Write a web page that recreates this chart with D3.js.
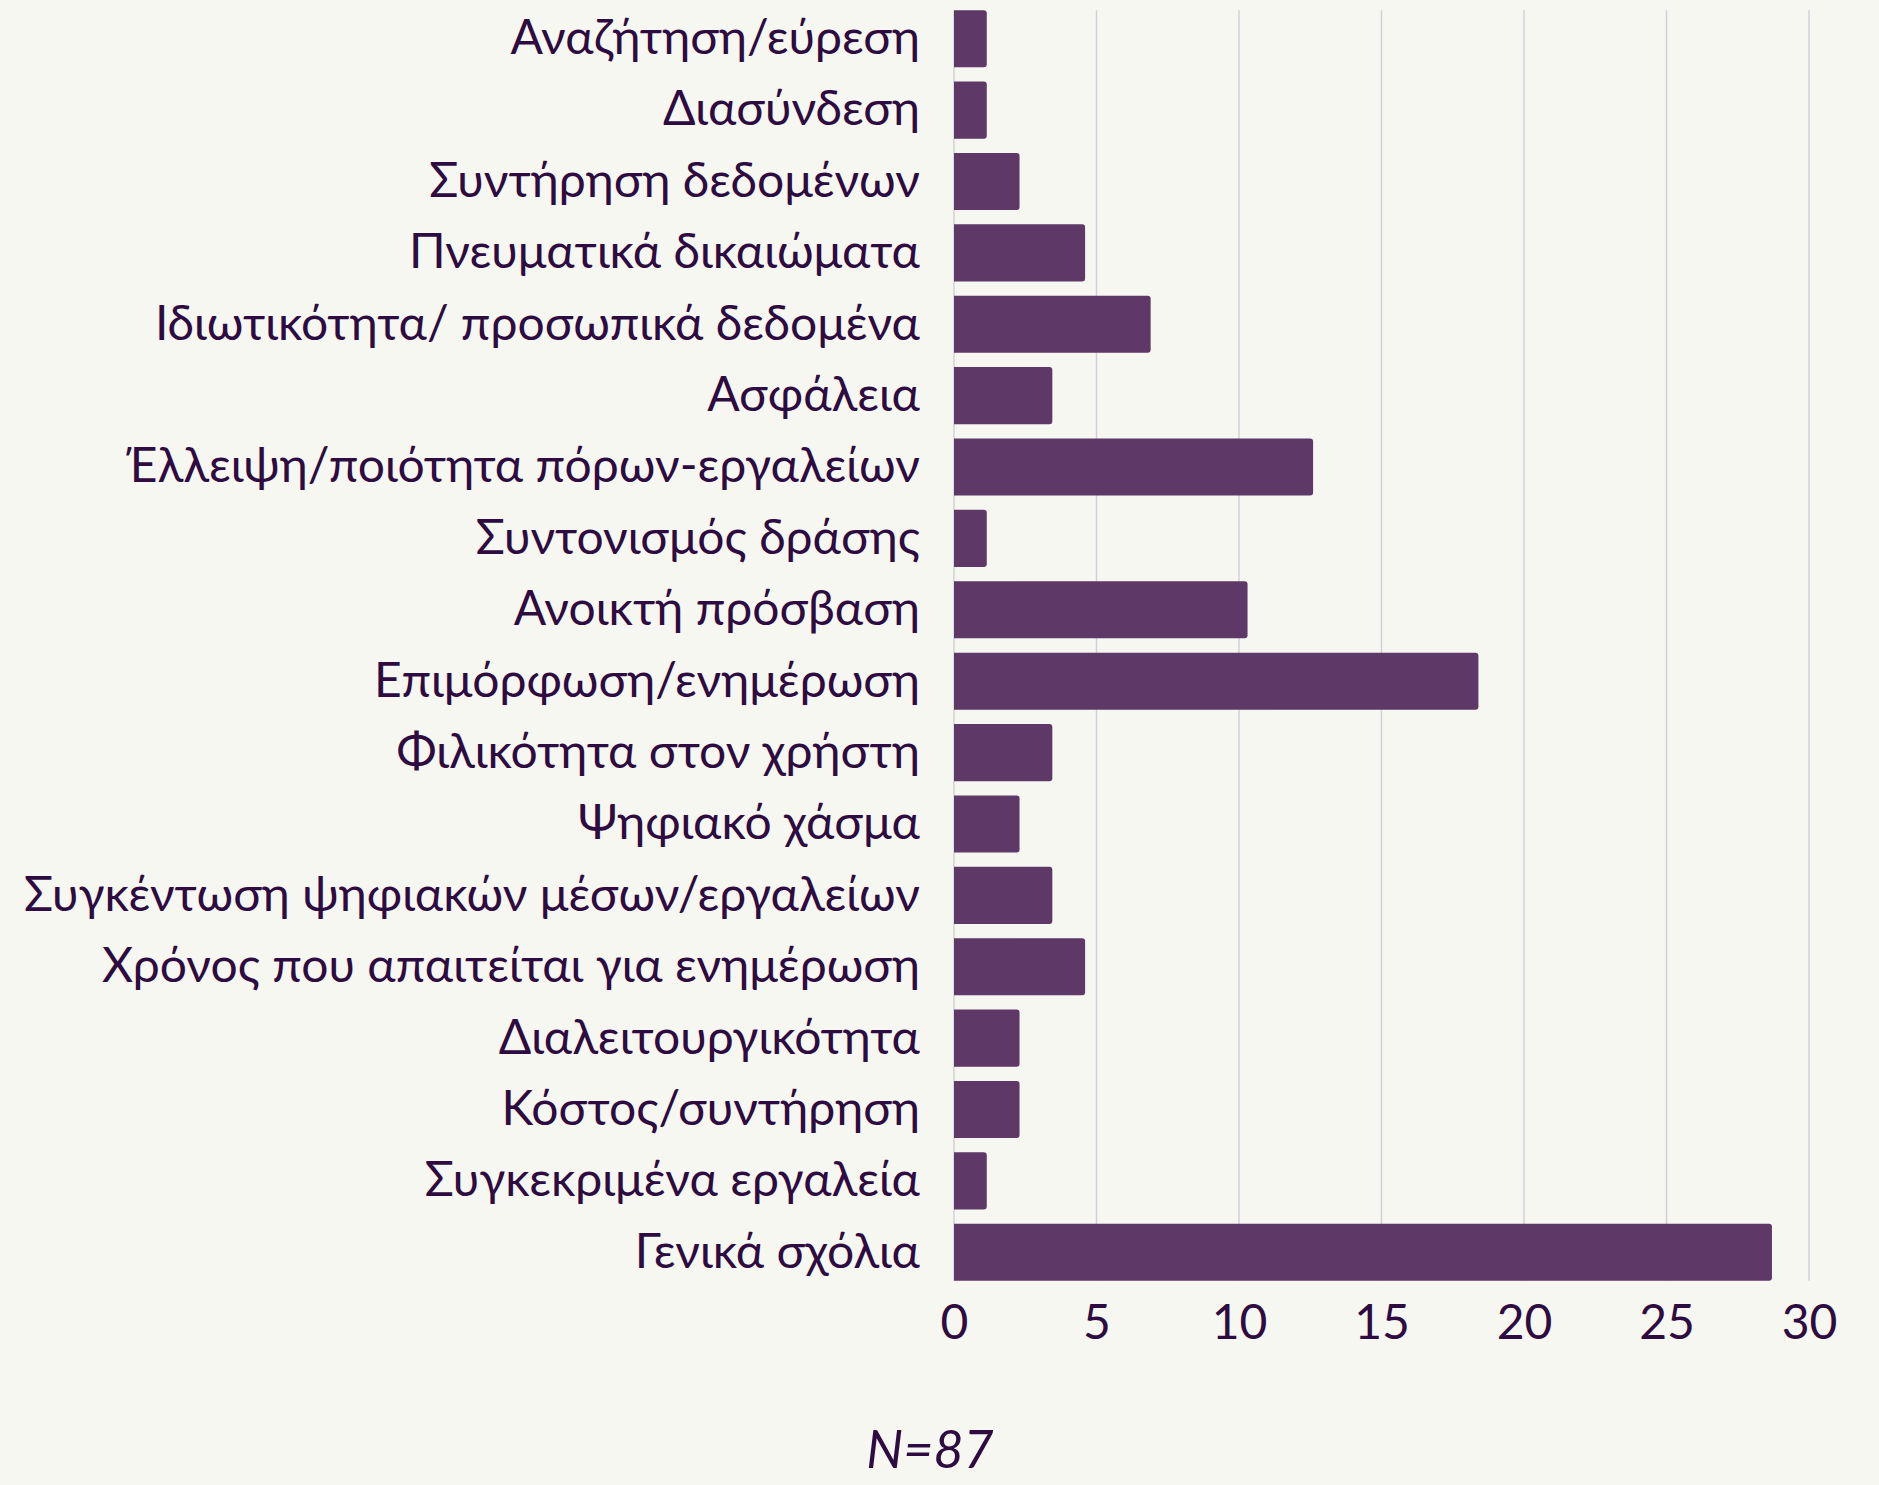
<!DOCTYPE html>
<html>
<head>
<meta charset="utf-8">
<script src="https://cdn.jsdelivr.net/npm/d3@7"></script>
<style>
  body { margin: 0; background: #f7f7f2; }
  svg { display: block; font-family: Lato, "Noto Sans", sans-serif; }
</style>
</head>
<body>
<div class="chart"></div>
<script>
// Horizontal bar chart: share of comments per theme (N=87)

var categories = [
    "Αναζήτηση/εύρεση",
    "Διασύνδεση",
    "Συντήρηση δεδομένων",
    "Πνευματικά δικαιώματα",
    "Ιδιωτικότητα/ προσωπικά δεδομένα",
    "Ασφάλεια",
    "Έλλειψη/ποιότητα πόρων-εργαλείων",
    "Συντονισμός δράσης",
    "Ανοικτή πρόσβαση",
    "Επιμόρφωση/ενημέρωση",
    "Φιλικότητα στον χρήστη",
    "Ψηφιακό χάσμα",
    "Συγκέντωση ψηφιακών μέσων/εργαλείων",
    "Χρόνος που απαιτείται για ενημέρωση",
    "Διαλειτουργικότητα",
    "Κόστος/συντήρηση",
    "Συγκεκριμένα εργαλεία",
    "Γενικά σχόλια"
];

var values = [1.15, 1.15, 2.3, 4.6, 6.9, 3.45, 12.6, 1.15, 10.3, 18.4,
              3.45, 2.3, 3.45, 4.6, 2.3, 2.3, 1.15, 28.7];

var xTicks = [0, 5, 10, 15, 20, 25, 30];
var note = "N=87";

var svgWidth = 1879;
var svgHeight = 1485;

var margin = { top: 3, right: 70, bottom: 197, left: 954 };

var textColor = "#2e0b40";
var barColor = "#5e3866";
var gridColor = "#d2d0d6";

var svg = d3.select(".chart")
    .append("svg")
    .attr("width", svgWidth)
    .attr("height", svgHeight);

svg.append("rect")
    .attr("width", svgWidth)
    .attr("height", svgHeight)
    .attr("fill", "#f7f7f2");

var xScale = d3.scaleLinear()
    .domain([0, 30])
    .range([margin.left, margin.left + 855]);

var yScale = d3.scaleBand()
    .domain(categories)
    .range([margin.top, svgHeight - margin.bottom])
    .paddingInner(0.2)
    .paddingOuter(0.1);

var gridTop = yScale(categories[0]);
var gridBottom = yScale(categories[categories.length - 1]) + yScale.bandwidth();

// gridlines (including the zero line)
svg.append("g")
    .selectAll("line")
    .data(xTicks)
    .join("line")
    .attr("x1", d => xScale(d))
    .attr("x2", d => xScale(d))
    .attr("y1", gridTop)
    .attr("y2", gridBottom)
    .attr("stroke", gridColor)
    .attr("stroke-width", 1.5);

// bars, square at the base and slightly rounded at the end
var r = 3;
svg.append("g")
    .selectAll("path")
    .data(values)
    .join("path")
    .attr("fill", barColor)
    .attr("d", (d, i) => {
        var x0 = xScale(0), x1 = xScale(d);
        var y0 = yScale(categories[i]), h = yScale.bandwidth();
        return `M${x0},${y0} H${x1 - r} Q${x1},${y0} ${x1},${y0 + r}` +
               ` V${y0 + h - r} Q${x1},${y0 + h} ${x1 - r},${y0 + h} H${x0} Z`;
    });

// category labels
var leftAxis = d3.axisLeft(yScale).tickSize(0).tickPadding(34);
var yAxis = svg.append("g")
    .attr("transform", `translate(${margin.left}, 0)`)
    .call(leftAxis);
yAxis.select(".domain").remove();
yAxis.selectAll("text")
    .attr("fill", textColor)
    .attr("font-size", 48)
    .attr("font-family", "Lato, 'Noto Sans', sans-serif");

// value axis
var bottomAxis = d3.axisBottom(xScale).tickValues(xTicks).tickSize(0).tickPadding(24);
var xAxis = svg.append("g")
    .attr("transform", `translate(0, ${gridBottom})`)
    .call(bottomAxis);
xAxis.select(".domain").remove();
xAxis.selectAll("text")
    .attr("fill", textColor)
    .attr("font-size", 48)
    .attr("font-family", "Lato, 'Noto Sans', sans-serif");

// sample size note
svg.append("text")
    .attr("x", 930)
    .attr("y", 1468)
    .attr("text-anchor", "middle")
    .attr("font-size", 52)
    .attr("font-style", "italic")
    .attr("fill", textColor)
    .text(note);
</script>
</body>
</html>
